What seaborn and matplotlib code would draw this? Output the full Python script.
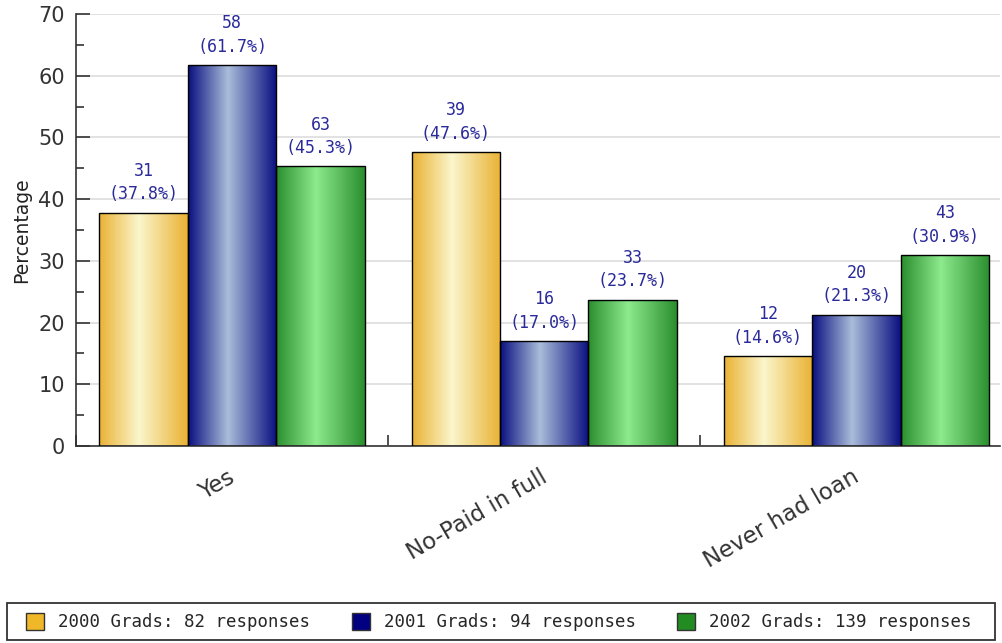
import numpy as np
import pandas as pd
import seaborn as sns
import matplotlib.pyplot as plt
from matplotlib.colors import LinearSegmentedColormap
from matplotlib.patches import Patch, Rectangle
from matplotlib.ticker import MultipleLocator
from matplotlib.transforms import ScaledTranslation

sns.set_style("white")

categories = ['Yes', 'No-Paid in full', 'Never had loan']
series = ['2000 Grads: 82 responses', '2001 Grads: 94 responses', '2002 Grads: 139 responses']
pct_2000 = [37.8, 47.6, 14.6]
pct_2001 = [61.7, 17.0, 21.3]
pct_2002 = [45.3, 23.7, 30.9]
cnt_2000 = [31, 39, 12]
cnt_2001 = [58, 16, 20]
cnt_2002 = [63, 33, 43]

solid = ['#F0B828', '#000080', '#228B22']
grad = [('#E9B233', '#FBF6CC'), ('#0A0F80', '#AABDDA'), ('#2A8E2E', '#8DEA8D')]

rows = []
for s, p, c in zip(series, [pct_2000, pct_2001, pct_2002], [cnt_2000, cnt_2001, cnt_2002]):
    for cat, pv, cv in zip(categories, p, c):
        rows.append({'cat': cat, 'series': s, 'pct': pv, 'cnt': cv})
df = pd.DataFrame(rows)

fig = plt.figure(figsize=(10.02, 6.43), dpi=100)
ax = fig.add_axes([76 / 1002, (643 - 446) / 643, 924 / 1002, 432 / 643])

sns.barplot(data=df, x='cat', y='pct', hue='series', hue_order=series, order=categories,
            palette=solid, width=0.85, edgecolor='black', linewidth=1, legend=False, ax=ax)

# gradient fill for each bar
for i, cont in enumerate(ax.containers):
    dark, light = grad[i]
    cmap = LinearSegmentedColormap.from_list('g%d' % i, [(0, dark), (0.45, light), (1, dark)])
    g = np.linspace(0, 1, 256).reshape(1, -1)
    sub = df[df['series'] == series[i]].set_index('cat').loc[categories]
    for bar, pv, cv in zip(cont, sub['pct'], sub['cnt']):
        x0, w, h = bar.get_x(), bar.get_width(), bar.get_height()
        im = ax.imshow(g, cmap=cmap, aspect='auto', extent=[x0, x0 + w, 0, h], zorder=2)
        im.set_clip_path(bar)
        bar.set_facecolor('none')
        bar.set_zorder(3)
        ax.text(x0 + w / 2, h + 1.5, '%d\n(%.1f%%)' % (cv, pv), ha='center', va='bottom',
                family='DejaVu Sans Mono', fontsize=12, color='#2A2A9A', linespacing=1.4, zorder=4)

ax.set_ylim(0, 70)
ax.set_xlim(-0.5, 2.46)

ax.yaxis.set_major_locator(MultipleLocator(10))
ax.yaxis.set_minor_locator(MultipleLocator(5))
ax.grid(axis='y', which='major', color='#DDDDDD', linewidth=1.2, zorder=0)
ax.set_axisbelow(True)
ax.set_xticks(range(3))
ax.set_xticks([-0.5, 0.5, 1.5], minor=True)
ax.tick_params(which='both', bottom=True, left=True)
ax.tick_params(axis='x', which='major', length=0, pad=14)
ax.tick_params(axis='x', which='minor', length=8, direction='in', color='#333333', width=1.2)
ax.tick_params(axis='y', which='major', length=10, direction='in', color='#333333', width=1.2,
               labelsize=15, labelcolor='#333333', pad=8)
ax.tick_params(axis='y', which='minor', length=6, direction='in', color='#333333', width=1.2)
ax.set_xticklabels(categories, rotation=30, ha='right', rotation_mode='anchor', fontsize=16.5, color='#333333')
for lbl in ax.get_xticklabels():
    lbl.set_transform(lbl.get_transform() + ScaledTranslation(-5 / 100, 0, fig.dpi_scale_trans))
for sp in ['top', 'right']:
    ax.spines[sp].set_visible(False)
ax.spines['left'].set_color('#333333')
ax.spines['bottom'].set_color('#333333')
ax.spines['left'].set_linewidth(1.2)
ax.spines['bottom'].set_linewidth(1.2)
ax.set_xlabel('')
ax.set_ylabel('Percentage', fontsize=13.5, color='#222222', labelpad=5)

handles = [Patch(facecolor=c, edgecolor='#333333', linewidth=1) for c in solid]
leg = fig.legend(handles, series, loc='center', bbox_to_anchor=(0.498, (643 - 622) / 643),
                 ncol=3, frameon=False, prop={'family': 'DejaVu Sans Mono', 'size': 12.5},
                 handlelength=1.03, handleheight=1.15, handletextpad=0.8, columnspacing=2.4,
                 borderaxespad=0, borderpad=0)
fig.patches.append(Rectangle((7 / 1002, 3 / 643), 988 / 1002, 37 / 643, transform=fig.transFigure,
                             facecolor='none', edgecolor='#333333', linewidth=1.3))

fig.savefig('out.png', dpi=100)
